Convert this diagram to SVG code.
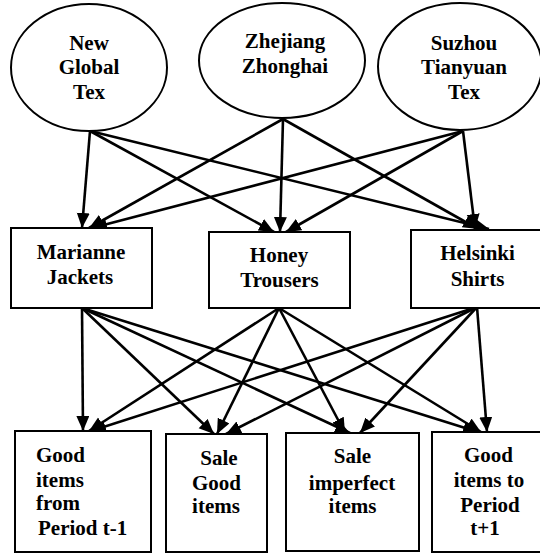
<svg xmlns="http://www.w3.org/2000/svg" width="540" height="556" viewBox="0 0 540 556">
<defs>
<marker id="arr" markerUnits="userSpaceOnUse" markerWidth="16" markerHeight="14" refX="15" refY="6.5" orient="auto">
<path d="M0,0 L15,6.5 L0,13 z" fill="#000"/>
</marker>
<style>
.n{fill:#fff;stroke:#000;stroke-width:2}
.t{font-weight:bold;font-size:21px;fill:#000;text-anchor:middle}
.l{text-anchor:start}
.c line{stroke:#000;stroke-width:2.6;marker-end:url(#arr)}
</style>
</defs>
<rect width="540" height="556" fill="#fff"/>
<g class="c" id="connectors">
<line x1="90" y1="131" x2="82" y2="228"/>
<line x1="90" y1="131" x2="274" y2="232"/>
<line x1="90" y1="131" x2="489" y2="229"/>
<line x1="283" y1="119" x2="89" y2="228"/>
<line x1="283" y1="119" x2="280" y2="232"/>
<line x1="283" y1="119" x2="478" y2="229"/>
<line x1="463" y1="131" x2="92" y2="228"/>
<line x1="463" y1="131" x2="286" y2="232"/>
<line x1="463" y1="131" x2="475" y2="229"/>
<line x1="82" y1="308" x2="83" y2="431"/>
<line x1="82" y1="308" x2="214" y2="434"/>
<line x1="82" y1="308" x2="350" y2="433"/>
<line x1="82" y1="308" x2="478" y2="432"/>
<line x1="279" y1="308" x2="89" y2="431"/>
<line x1="279" y1="308" x2="217" y2="434"/>
<line x1="279" y1="308" x2="345" y2="433"/>
<line x1="279" y1="308" x2="481" y2="432"/>
<line x1="477" y1="307" x2="91" y2="431"/>
<line x1="477" y1="307" x2="226" y2="434"/>
<line x1="477" y1="307" x2="360" y2="433"/>
<line x1="477" y1="307" x2="487" y2="432"/>
</g>
<g font-family="'Liberation Serif', 'Times New Roman', 'DejaVu Serif', serif">
<g id="new-global-tex">
<ellipse class="n" cx="89" cy="67.5" rx="78" ry="63.5"/>
<text class="t" x="89" y="50">New</text>
<text class="t" x="89" y="74">Global</text>
<text class="t" x="89" y="99">Tex</text>
</g>
<g id="zhejiang-zhonghai">
<ellipse class="n" cx="282" cy="60.5" rx="83" ry="57.5"/>
<text class="t" x="285" y="48">Zhejiang</text>
<text class="t" x="285" y="72.5">Zhonghai</text>
</g>
<g id="suzhou-tianyuan-tex">
<ellipse class="n" cx="460" cy="66.5" rx="82" ry="63.5"/>
<text class="t" x="464" y="50">Suzhou</text>
<text class="t" x="464" y="74">Tianyuan</text>
<text class="t" x="464" y="99">Tex</text>
</g>
<g id="marianne-jackets">
<rect class="n" x="11" y="228" width="141" height="80"/>
<text class="t" x="81" y="259">Marianne</text>
<text class="t" x="80" y="284">Jackets</text>
</g>
<g id="honey-trousers">
<rect class="n" x="209" y="232" width="141" height="76"/>
<text class="t" x="279" y="262">Honey</text>
<text class="t" x="279.5" y="287">Trousers</text>
</g>
<g id="helsinki-shirts">
<rect class="n" x="411" y="230" width="134" height="78"/>
<text class="t" x="477.5" y="260">Helsinki</text>
<text class="t" x="477.5" y="286">Shirts</text>
</g>
<g id="good-items-from-period">
<rect class="n" x="15" y="431" width="136" height="121"/>
<text class="t l" x="36" y="462">Good</text>
<text class="t l" x="36" y="487">items</text>
<text class="t l" x="36" y="510">from</text>
<text class="t l" x="38" y="535">Period t-1</text>
</g>
<g id="sale-good-items">
<rect class="n" x="166" y="434" width="101" height="118"/>
<text class="t" x="219" y="465">Sale</text>
<text class="t" x="216.5" y="490">Good</text>
<text class="t" x="216" y="513">items</text>
</g>
<g id="sale-imperfect-items">
<rect class="n" x="286" y="433" width="133" height="118"/>
<text class="t" x="352.5" y="463">Sale</text>
<text class="t" x="352" y="490">imperfect</text>
<text class="t" x="352.5" y="513">items</text>
</g>
<g id="good-items-to-period">
<rect class="n" x="432" y="432" width="110" height="120"/>
<text class="t" x="488.5" y="462">Good</text>
<text class="t" x="489" y="487">items to</text>
<text class="t" x="490" y="512">Period</text>
<text class="t" x="485" y="535">t+1</text>
</g>
</g>
</svg>
